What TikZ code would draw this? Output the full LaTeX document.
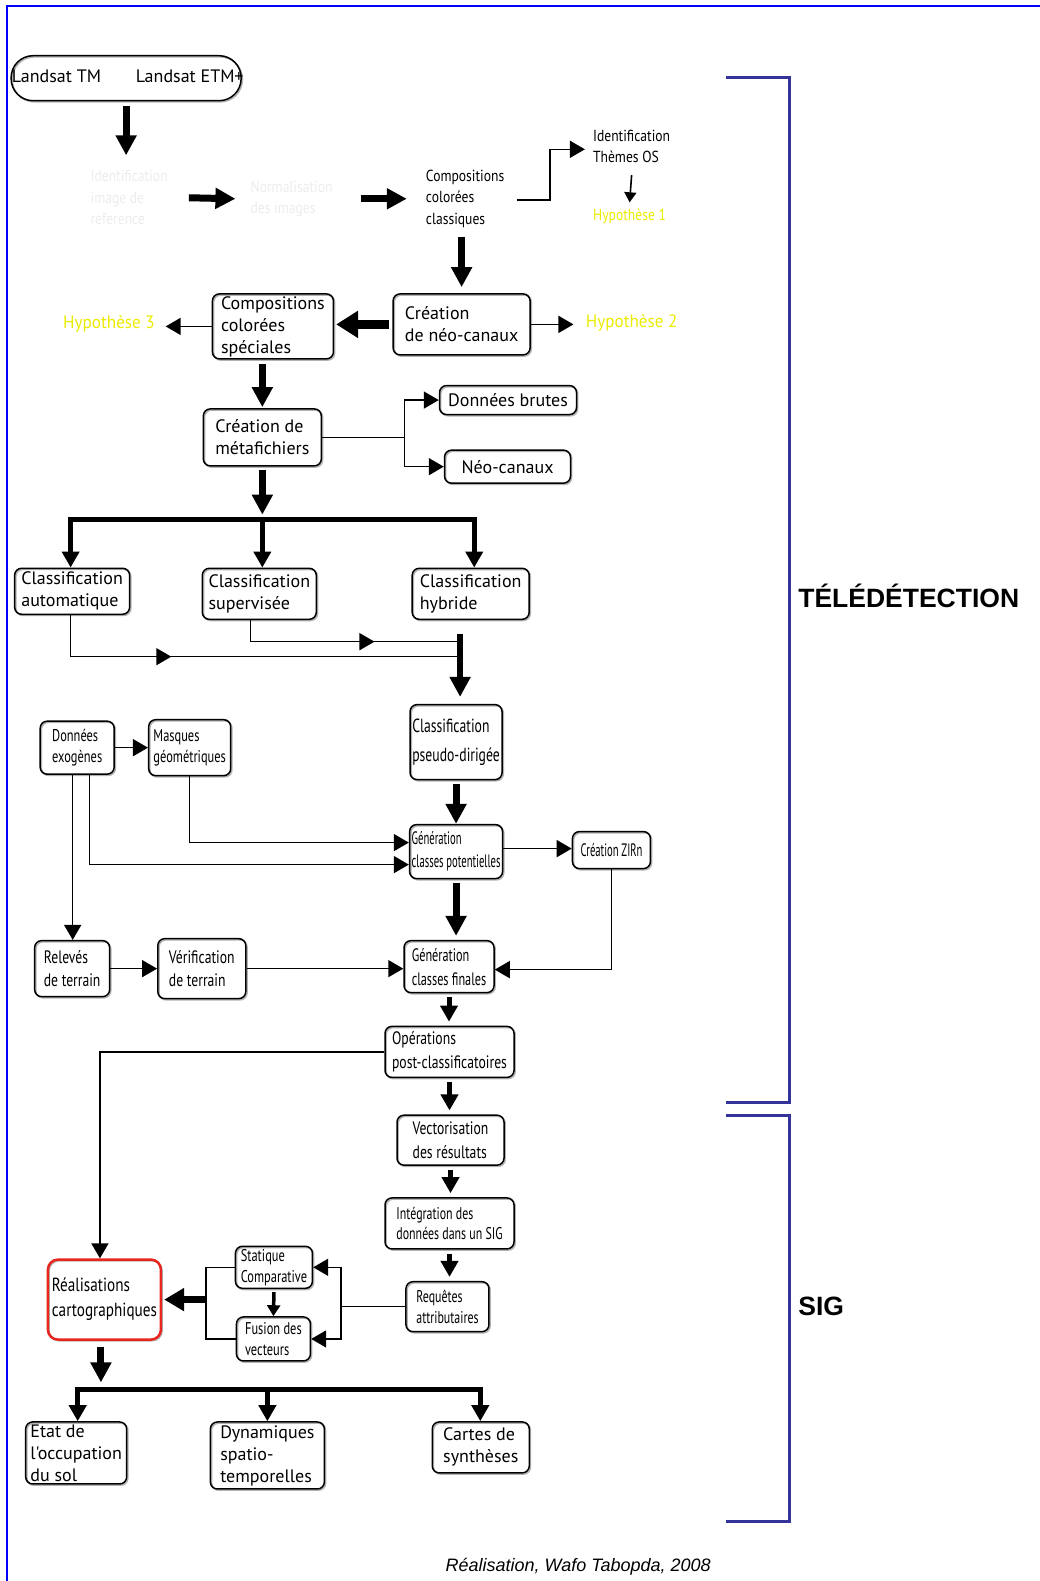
\documentclass[tikz,border=0pt]{standalone}
\usepackage{fontspec}
\setmainfont{PT Sans}
\newfontfamily\fA{PT Sans}
\newfontfamily\fAq[Ligatures=TeXOff]{PT Sans}
\newfontfamily\fH[FakeStretch=0.95]{PT Sans}
\newfontfamily\fB[FakeStretch=0.85]{PT Sans}
\newfontfamily\fCp[FakeStretch=0.72]{PT Sans}
\newfontfamily\fC[FakeStretch=0.76]{PT Sans}
\newfontfamily\fR[FakeStretch=0.8]{PT Sans}
\newfontfamily\fE[FakeStretch=0.7]{PT Sans}
\newfontfamily\fG[FakeStretch=0.59]{PT Sans}
\newfontfamily\fF[FakeStretch=0.68]{PT Sans}
\newfontfamily\fS[FakeStretch=0.73]{PT Sans}
\newfontfamily\hv{Liberation Sans}
\usetikzlibrary{arrows.meta,decorations.markings}
\definecolor{brk}{RGB}{51,51,153}
\definecolor{hyp}{RGB}{235,235,0}
\definecolor{rd}{RGB}{232,38,31}
\definecolor{bord}{RGB}{0,0,255}
\definecolor{fade}{RGB}{236,236,236}
\begin{document}
\begin{tikzpicture}[x=1.009pt,y=-1.009pt,
  box/.style={draw, line width=1.5pt, rounded corners=7pt, inner sep=2pt, align=left,
    preaction={draw=black!30, line width=1.5pt, transform canvas={xshift=1.2pt,yshift=-1.2pt}}},
  txt/.style={inner sep=0pt, align=left},
  ln/.style={line width=1.6pt},
  arr/.style={line width=1.6pt, -{Triangle[length=15pt,width=17pt]}},
  arrs/.style={line width=1.6pt, -{Triangle[length=10pt,width=12pt]}},
  arrm/.style={line width=3.5pt, -{Triangle[length=11pt,width=13pt]}},
  bigarr/.style={line width=7pt, -{Triangle[length=20pt,width=20pt]}},
  medarr/.style={line width=5pt, -{Triangle[length=16pt,width=17pt]}},
  midarr/.style={postaction={decorate}, decoration={markings, mark=at position #1 with {\arrow{Triangle[length=15pt,width=17pt]}}}},
  FA/.style={font=\fA\fontsize{18}{22}\selectfont},
  FBs/.style={font=\fB\fontsize{16}{21.5}\selectfont},
  FH/.style={font=\fH\fontsize{18}{21}\selectfont},
  FCb/.style={font=\fCp\fontsize{19}{29}\selectfont},
  FC18/.style={font=\fC\fontsize{18}{23.5}\selectfont},
  FR/.style={font=\fR\fontsize{19}{25}\selectfont},
  FG/.style={font=\fG\fontsize{18}{23}\selectfont},
  FF/.style={font=\fF\fontsize{18}{24}\selectfont},
  FE/.style={font=\fE\fontsize{17}{20.5}\selectfont},
  FS/.style={font=\fS\fontsize{17}{21}\selectfont}
]
\useasboundingbox (0,0) rectangle (1030.7,1566.9);
\draw[bord, line width=2pt] (1030.7,6) -- (7,6) -- (7,1566.9);

% brackets
\draw[brk, line width=3pt] (720,77) -- (782,77) -- (782,1093) -- (720,1093);
\draw[brk, line width=3pt] (720,1106) -- (782,1106) -- (782,1508) -- (720,1508);
\node[font=\hv\bfseries\fontsize{26.5}{30}\selectfont, anchor=west, inner sep=0] (tele) at (791,591) {TÉLÉDÉTECTION};
\node[font=\hv\bfseries\fontsize{26.5}{30}\selectfont, anchor=west, inner sep=0] (sig) at (791,1295) {SIG};
\node[font=\hv\itshape\fontsize{18}{20}\selectfont, inner sep=0] (cap) at (573,1553) {Réalisation, Wafo Tabopda, 2008};

% nodes
\node[box, minimum width=230pt, minimum height=45pt, rounded corners=22pt] (landsat) at (125,77.5) {};
\node[txt, FA] (ltm) at (56,76) {Landsat TM};
\node[txt, FA] (letm) at (188,76) {Landsat ETM+};

\node[txt, text=fade, FBs, minimum width=77pt] (fadeid) at (128,196) {Identification\\image de\\reference};
\node[txt, text=fade, FBs, minimum width=82pt] (fadenorm) at (289,197) {Normalisation\\des images};
\node[txt, FBs, minimum width=78pt] (compcl) at (461,197) {Compositions\\colorées\\classiques};
\node[txt, FBs, minimum width=76pt] (idos) at (626,145) {Identification\\Thèmes OS};
\node[txt, text=hyp, FBs, minimum width=73pt] (hyp1) at (624,214) {Hypothèse 1};

\node[box, minimum width=137pt, minimum height=61pt, FA] (neo) at (457.5,321.5) {Création\\de néo-canaux};
\node[txt, text=hyp, FH, minimum width=92pt] (hyp2) at (626,320) {Hypothèse 2};
\node[box, minimum width=121pt, minimum height=65pt, FA] (compsp) at (270.5,323.5) {Compositions\\colorées\\spéciales};
\node[txt, text=hyp, FH, minimum width=93pt] (hyp3) at (108,321) {Hypothèse 3};
\node[box, minimum width=118pt, minimum height=57pt, FA] (meta) at (260,433.5) {Création de\\métafichiers};
\node[box, minimum width=137pt, minimum height=29pt, FA] (brutes) at (503.5,396.5) {Données brutes};
\node[box, minimum width=126pt, minimum height=33pt, FA] (neoc) at (503,462.5) {Néo-canaux};
\node[box, minimum width=115pt, minimum height=46pt, FA] (cauto) at (71.5,586) {Classification\\automatique};
\node[box, minimum width=114pt, minimum height=51pt, FA] (csup) at (257,588.5) {Classification\\supervisée};
\node[box, minimum width=117pt, minimum height=51pt, FA] (chyb) at (466.5,588.5) {Classification\\hybride};
\node[box, minimum width=92pt, minimum height=75pt, FCb] (cpseudo) at (452,735.5) {Classification\\pseudo-dirigée};
\node[box, minimum width=93pt, minimum height=54pt, FG] (genpot) at (452,844) {Génération\\classes potentielles};
\node[box, minimum width=78pt, minimum height=37pt, FG] (zirn) at (606,842.5) {Création ZIRn};
\node[box, minimum width=74pt, minimum height=53pt, FS] (dexo) at (76.5,741) {Données\\exogènes};
\node[box, minimum width=82pt, minimum height=56pt, FS] (masq) at (188,741) {Masques\\géométriques};
\node[box, minimum width=75pt, minimum height=56pt, FC18] (relev) at (71.5,960) {Relevés\\de terrain};
\node[box, minimum width=88pt, minimum height=60pt, FC18] (verif) at (200,960) {Vérification\\de terrain};
\node[box, minimum width=90pt, minimum height=52pt, FF] (genfin) at (445,958) {Génération\\classes finales};
\node[box, minimum width=129pt, minimum height=51pt, FC18] (opera) at (445.5,1042.5) {Opérations\\post-classificatoires};
\node[box, minimum width=107pt, minimum height=50pt, FC18] (vect) at (446.5,1130) {Vectorisation\\des résultats};
\node[box, minimum width=129pt, minimum height=51pt, FE] (integ) at (445.5,1212.5) {Intégration des\\données dans un SIG};
\node[box, minimum width=83pt, minimum height=50pt, FE] (requ) at (443.5,1295) {Requêtes\\attributaires};
\node[box, minimum width=77pt, minimum height=42pt, FS] (stat) at (271.5,1256) {Statique\\Comparative};
\node[box, minimum width=74pt, minimum height=44pt, FS] (fusion) at (271,1327) {Fusion des\\vecteurs};
\node[box, draw=rd, line width=2.5pt, rounded corners=10pt, minimum width=113pt, minimum height=80pt, FR] (reali) at (103.5,1288) {Réalisations\\cartographiques};
\node[box, minimum width=101pt, minimum height=62pt, FA] (etat) at (75.5,1440) {Etat de\\l{\fAq\symbol{39}}occupation\\du sol};
\node[box, minimum width=114pt, minimum height=67pt, FA] (dyn) at (265,1442.5) {Dynamiques\\spatio-\\temporelles};
\node[box, minimum width=97pt, minimum height=51pt, FA] (cartes) at (476.5,1434.5) {Cartes de\\synthèses};

% coordinates
\coordinate (jm) at (401,433.5);
\coordinate (b1l) at (70,515);
\coordinate (b1m) at (260,515);
\coordinate (b1r) at (470,515);
\coordinate (mg) at (456,630);
\coordinate (jr) at (338,1295);
\coordinate (jl) at (204,1288);
\coordinate (b2l) at (77,1377);
\coordinate (b2m) at (265,1377);
\coordinate (b2r) at (476,1377);

% connectors
\draw[bigarr] ([yshift=-5pt]landsat.south) -- ([yshift=15pt]fadeid.north -| landsat.south);
\draw[bigarr] ([xshift=21pt]fadeid.east) -- ([xshift=-15pt]fadenorm.west);
\draw[bigarr] ([xshift=28pt]fadenorm.east) -- ([xshift=-19pt]compcl.west);
\draw[arr] ([xshift=12pt,yshift=-1pt]compcl.east) -- ++(33,0) |- ([xshift=-8pt,yshift=-3pt]idos.west);
\draw[arrs] ([yshift=-12pt]idos.south) -- ([yshift=6pt]hyp1.north);
\draw[bigarr] ([yshift=-9pt]compcl.south -| neo.north) -- ([yshift=6pt]neo.north);
\draw[arr] (neo.east) -- ([xshift=-12pt]neo.east -| hyp2.west);
\draw[line width=9pt, -{Triangle[length=22pt,width=26pt]}] ([xshift=-3pt]neo.west) -- ([xshift=2pt]neo.west -| compsp.east);
\draw[arr] (compsp.west) -- ([xshift=10pt]compsp.west -| hyp3.east);
\draw[bigarr] ([yshift=-4pt]compsp.south -| meta.north) -- ([yshift=1pt]meta.north);
\draw[ln] (meta.east) -- (jm);
\draw[arr] (jm) |- (brutes.west);
\draw[arr] (jm) |- (neoc.west);
\draw[bigarr] ([yshift=-3pt]meta.south) -- ([yshift=5pt]b1m);
\draw[line width=5pt] ([xshift=-2.5pt]b1l) -- ([xshift=2.5pt]b1r);
\draw[medarr] (b1l) -- (b1l |- cauto.north);
\draw[medarr] (b1m) -- (b1m |- csup.north);
\draw[medarr] (b1r) -- (b1r |- chyb.north);
\draw[ln, midarr=0.33] ([xshift=-1.5pt]cauto.south) |- ([yshift=-21pt]mg);
\draw[ln, midarr=0.63] ([xshift=-9pt]csup.south) |- ([yshift=-6pt]mg);
\draw[line width=6pt, -{Triangle[length=20pt,width=20pt]}] ([yshift=2pt]mg) -- ([yshift=7pt]mg |- cpseudo.north);
\draw[bigarr] ([yshift=-4pt]cpseudo.south) -- (genpot.north);
\draw[arr] ([yshift=3pt]genpot.east) -- ([yshift=3pt]genpot.east -| zirn.west);
\draw[arr] (zirn.south) |- ([yshift=-3pt]genfin.east);
\draw[arr] (dexo.east) -- (dexo.east -| masq.west);
\draw[arr] (masq.south) |- ([yshift=9pt]genpot.west);
\draw[arr] ([xshift=12.5pt]dexo.south) |- ([yshift=-13pt]genpot.west);
\draw[arr] ([xshift=-4.5pt]dexo.south) -- ([xshift=-4.5pt]dexo.south |- relev.north);
\draw[arr] (relev.east) -- (relev.east -| verif.west);
\draw[arr] (verif.east) -- (verif.east -| genfin.west);
\draw[bigarr] ([yshift=-4pt]genpot.south) -- ([yshift=4pt]genpot.south |- genfin.north);
\draw[medarr] ([yshift=-4pt]genfin.south) -- ([yshift=4pt]genfin.south |- opera.north);
\draw[arr] (opera.west) -| ([xshift=-4.5pt]reali.north);
\draw[medarr] ([yshift=-4pt]opera.south) -- ([yshift=4pt]opera.south |- vect.north);
\draw[medarr] ([yshift=-4pt]vect.south) -- ([yshift=4pt]vect.south |- integ.north);
\draw[medarr] ([yshift=-4pt]integ.south) -- ([yshift=4pt]integ.south |- requ.north);
\draw[ln] (requ.west) -- (jr);
\draw[arr] (jr) |- (stat.east);
\draw[arr] (jr) |- (fusion.east);
\draw[arrm] ([yshift=-3pt]stat.south) -- (fusion.north);
\draw[ln] (stat.west) -- (stat.west -| jl) -- (fusion.west -| jl) -- (fusion.west);
\draw[line width=7pt, -{Triangle[length=20pt,width=22pt]}] (jl) -- ([xshift=2pt]reali.east);
\draw[bigarr] ([xshift=-3.5pt,yshift=-6pt]reali.south) -- ([xshift=-3.5pt,yshift=7pt]reali.south |- b2l);
\draw[line width=5pt] ([xshift=-2.5pt]b2l) -- ([xshift=2.5pt]b2r);
\draw[medarr] (b2l) -- (b2l |- etat.north);
\draw[medarr] (b2m) -- (b2m |- dyn.north);
\draw[medarr] (b2r) -- (b2r |- cartes.north);
\end{tikzpicture}
\end{document}
